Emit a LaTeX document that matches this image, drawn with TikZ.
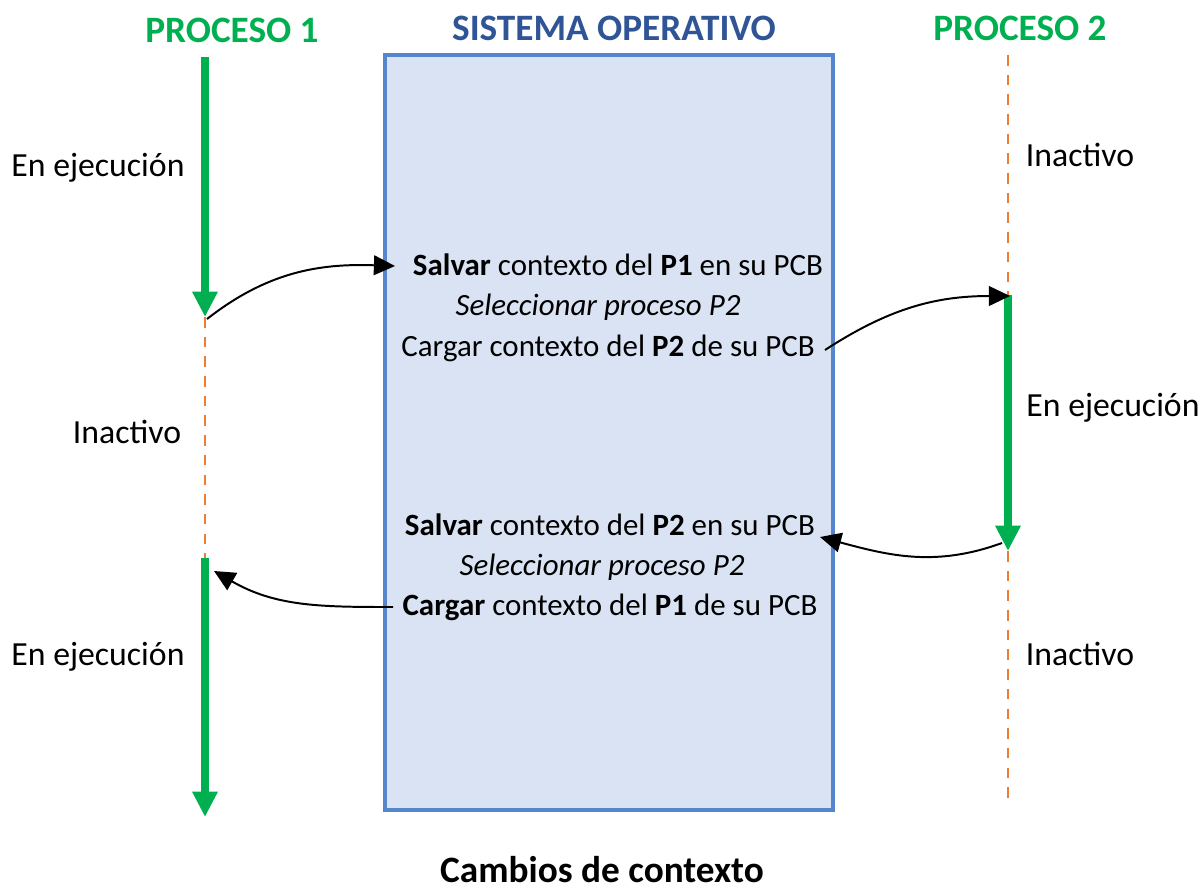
\documentclass[tikz,border=0pt]{standalone}
\usepackage{fontspec}
\setmainfont{Carlito}
\usepackage{xcolor}
\usetikzlibrary{arrows.meta,positioning}

\definecolor{pgreen}{HTML}{00B050}
\definecolor{porange}{HTML}{ED7D31}
\definecolor{osblue}{HTML}{2F5597}
\definecolor{osfill}{HTML}{DAE3F3}
\definecolor{osline}{HTML}{5585CC}

\begin{document}
\begin{tikzpicture}[
    x=0.025cm, y=-0.025cm,
    title/.style={font=\fontsize{26.5}{31}\selectfont\bfseries},
    state/.style={font=\fontsize{24}{28}\selectfont},
    oslabel/.style={font=\fontsize{22}{27}\selectfont},
    run/.style={draw=pgreen, line width=5pt, -{Triangle[width=17pt,length=18pt]}},
    idle/.style={draw=porange, line width=2pt, dash pattern=on 7.5pt off 6.5pt},
    switch/.style={-{Triangle[width=14pt,length=15pt]}, line width=1.4pt, black}
]
\useasboundingbox (0,0) rectangle (1204,889);

% Sistema operativo
\draw[draw=osline, fill=osfill, line width=2.2pt] (385,55) rectangle (833,810);

% Titles
\node[title, text=pgreen] (p1title) at (232,30) {PROCESO 1};
\node[title, text=osblue] (ostitle) at (614,28) {SISTEMA OPERATIVO};
\node[title, text=pgreen] (p2title) at (1020,28) {PROCESO 2};
\node[title, anchor=base] (caption) at (602,882) {Cambios de contexto};

% Process 1 timeline
\coordinate (p1a) at (205,57);
\coordinate (p1b) at (205,317);
\coordinate (p1c) at (205,558);
\coordinate (p1d) at (205,817);
\draw[run] (p1a) -- (p1b);
\draw[idle] (p1b) -- (p1c);
\draw[run] (p1c) -- (p1d);

% Process 2 timeline
\coordinate (p2a) at (1008,55);
\coordinate (p2b) at (1008,295);
\coordinate (p2c) at (1008,551);
\coordinate (p2d) at (1008,805);
\draw[idle] (p2a) -- (p2b);
\draw[run] (p2b) -- (p2c);
\draw[idle] (p2c) -- (p2d);

% States
\node[state] (run1) at (98,168) {En ejecución};
\node[state] (idle1) at (127,432) {Inactivo};
\node[state] (run1b) at (98,657) {En ejecución};
\node[state] (idle2) at (1080,155) {Inactivo};
\node[state] (run2) at (1113,408) {En ejecución};
\node[state] (idle2b) at (1080,654) {Inactivo};

% Context switch texts
\node[oslabel] (save1) at (618,265) {\textbf{Salvar} contexto del \textbf{P1} en su PCB};
\node[oslabel] (sel1) at (598,307) {\itshape Seleccionar proceso P2};
\node[oslabel] (load1) at (608,348) {Cargar contexto del \textbf{P2} de su PCB};
\node[oslabel] (save2) at (610,525) {\textbf{Salvar} contexto del \textbf{P2} en su PCB};
\node[oslabel] (sel2) at (602,567) {\itshape Seleccionar proceso P2};
\node[oslabel] (load2) at (610,607) {\textbf{Cargar} contexto del \textbf{P1} de su PCB};

% Arrows
\coordinate (s1from) at (207,319);
\coordinate (s1to) at (395,266);
\coordinate (l1from) at (825,350);
\coordinate (l1to) at (1010,296);
\coordinate (s2from) at (1002,543);
\coordinate (s2to) at (820,537);
\coordinate (l2from) at (393,607);
\coordinate (l2to) at (214,571);
\draw[switch] (s1from) to[out=38, in=178] (s1to);
\draw[switch] (l1from) to[out=33, in=180] (l1to);
\draw[switch] (s2from) to[out=200, in=-15] (s2to);
\draw[switch] (l2from) to[out=180, in=-30] (l2to);

\end{tikzpicture}
\end{document}
